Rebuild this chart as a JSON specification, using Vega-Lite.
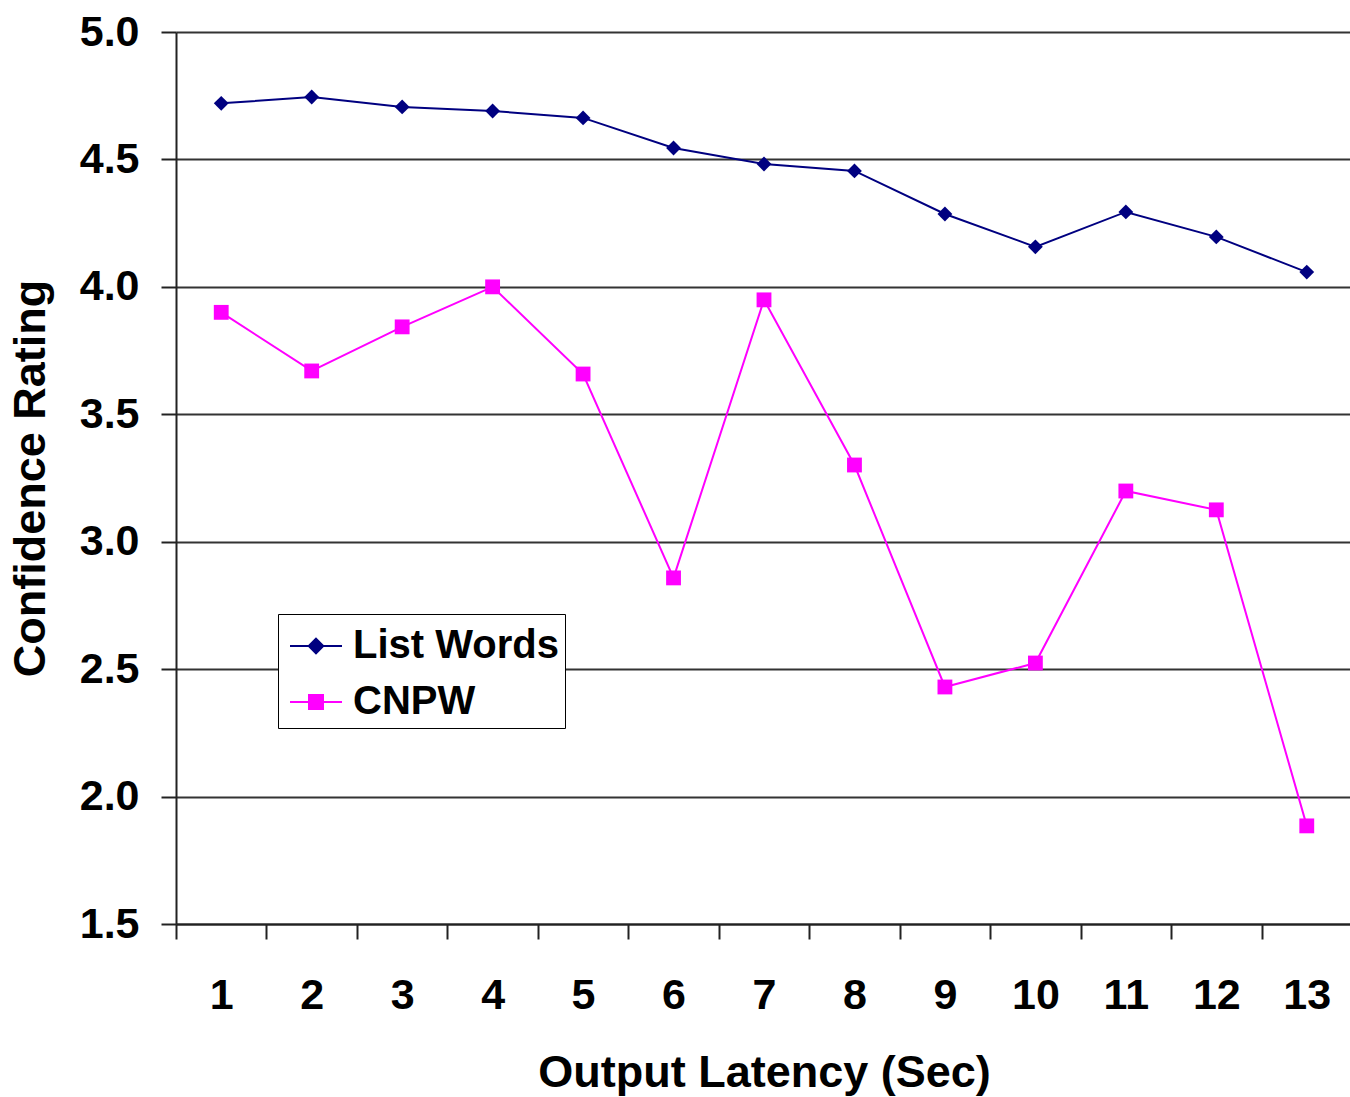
{
  "$schema": "https://vega.github.io/schema/vega-lite/v6.json",
  "autosize": "none",
  "width": 1176,
  "height": 892,
  "padding": {"left": 176, "top": 32, "right": 0, "bottom": 173},
  "background": "white",
  "config": {
    "view": {"stroke": null},
    "font": "Liberation Sans"
  },
  "data": {
    "values": [
      {"latency": "1", "series": "List Words", "rating": 4.72},
      {"latency": "2", "series": "List Words", "rating": 4.745},
      {"latency": "3", "series": "List Words", "rating": 4.706},
      {"latency": "4", "series": "List Words", "rating": 4.69},
      {"latency": "5", "series": "List Words", "rating": 4.663},
      {"latency": "6", "series": "List Words", "rating": 4.545},
      {"latency": "7", "series": "List Words", "rating": 4.482},
      {"latency": "8", "series": "List Words", "rating": 4.455},
      {"latency": "9", "series": "List Words", "rating": 4.286},
      {"latency": "10", "series": "List Words", "rating": 4.157},
      {"latency": "11", "series": "List Words", "rating": 4.294},
      {"latency": "12", "series": "List Words", "rating": 4.196},
      {"latency": "13", "series": "List Words", "rating": 4.058},
      {"latency": "1", "series": "CNPW", "rating": 3.90},
      {"latency": "2", "series": "CNPW", "rating": 3.67},
      {"latency": "3", "series": "CNPW", "rating": 3.843},
      {"latency": "4", "series": "CNPW", "rating": 4.0},
      {"latency": "5", "series": "CNPW", "rating": 3.658},
      {"latency": "6", "series": "CNPW", "rating": 2.858},
      {"latency": "7", "series": "CNPW", "rating": 3.949},
      {"latency": "8", "series": "CNPW", "rating": 3.301},
      {"latency": "9", "series": "CNPW", "rating": 2.43},
      {"latency": "10", "series": "CNPW", "rating": 2.524},
      {"latency": "11", "series": "CNPW", "rating": 3.199},
      {"latency": "12", "series": "CNPW", "rating": 3.125},
      {"latency": "13", "series": "CNPW", "rating": 1.885}
    ]
  },
  "encoding": {
    "x": {
      "field": "latency",
      "type": "ordinal",
      "sort": ["1","2","3","4","5","6","7","8","9","10","11","12","13"],
      "scale": {"type": "band", "paddingInner": 0, "paddingOuter": 0},
      "axis": {
        "title": "Output Latency (Sec)",
        "titleFontSize": 45,
        "titleFontWeight": "bold",
        "titleColor": "black",
        "titlePadding": 33,
        "labelFontSize": 43,
        "labelFontWeight": "bold",
        "labelColor": "black",
        "labelAngle": 0,
        "labelPadding": 35,
        "tickBand": "extent",
        "tickSize": 15,
        "tickColor": "#222",
        "tickWidth": 2,
        "domainColor": "#222",
        "domainWidth": 2,
        "grid": false
      }
    },
    "y": {
      "field": "rating",
      "type": "quantitative",
      "scale": {"domain": [1.5, 5.0], "nice": false, "zero": false},
      "axis": {
        "title": "Confidence Rating",
        "titleFontSize": 45,
        "titleFontWeight": "bold",
        "titleColor": "black",
        "titlePadding": 26,
        "values": [1.5, 2.0, 2.5, 3.0, 3.5, 4.0, 4.5, 5.0],
        "format": ".1f",
        "labelFontSize": 43,
        "labelFontWeight": "bold",
        "labelColor": "black",
        "labelPadding": 22,
        "tickSize": 15,
        "tickColor": "#222",
        "tickWidth": 2,
        "domainColor": "#222",
        "domainWidth": 2,
        "grid": true,
        "gridColor": "#333",
        "gridWidth": 2,
        "gridOpacity": 1
      }
    },
    "color": {
      "field": "series",
      "type": "nominal",
      "scale": {"domain": ["List Words", "CNPW"], "range": ["#000080", "#FF00FF"]},
      "legend": {
        "title": null,
        "orient": "none",
        "legendX": 102,
        "legendY": 582,
        "strokeColor": "black",
        "fillColor": "white",
        "padding": 6,
        "labelFontSize": 40,
        "labelFontWeight": "bold",
        "labelColor": "black",
        "labelOffset": 17,
        "symbolSize": 2500,
        "symbolStrokeWidth": 2,
        "rowPadding": 10,
        "labelLimit": 400,
        "encode": {
          "symbols": {
            "update": {
              "shape": {"signal": "datum.value === 'List Words' ? 'M-0.8,0H1.28M0.24,-0.29L0.53,0L0.24,0.29L-0.05,0Z' : 'M-0.8,0H1.28M-0.04,-0.28H0.52V0.28H-0.04Z'"},
              "fill": {"scale": "color", "field": "value"},
              "stroke": {"scale": "color", "field": "value"},
              "strokeWidth": {"value": 2},
              "size": {"value": 2500},
              "opacity": {"value": 1}
            }
          }
        }
      }
    }
  },
  "layer": [
    {
      "mark": {"type": "line", "strokeWidth": 2},
      "encoding": {"detail": {"field": "series"}}
    },
    {
      "transform": [{"filter": "datum.series === 'List Words'"}],
      "mark": {"type": "point", "shape": "diamond", "filled": true, "opacity": 1, "size": 220, "strokeWidth": 1}
    },
    {
      "transform": [{"filter": "datum.series === 'CNPW'"}],
      "mark": {"type": "point", "shape": "square", "filled": true, "opacity": 1, "size": 220, "strokeWidth": 1}
    }
  ]
}
